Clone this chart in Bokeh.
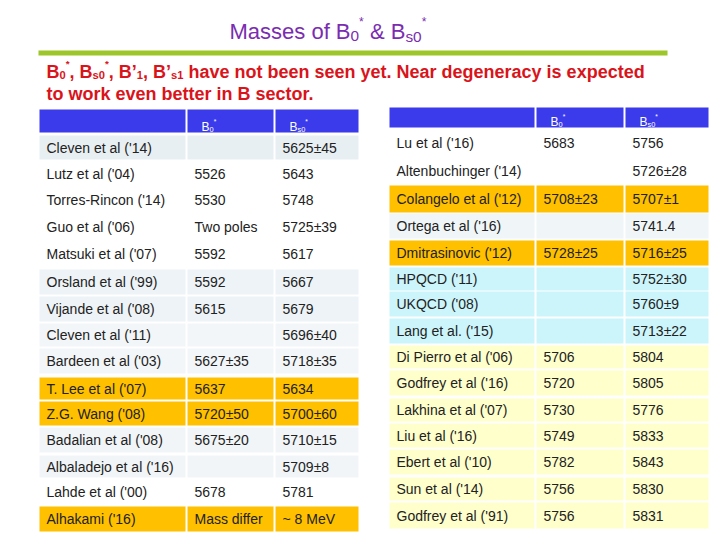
from bokeh.plotting import figure
from bokeh.models import Range1d, ColumnDataSource
from bokeh.embed import file_html
from bokeh.resources import INLINE
from bokeh.core.properties import value

# ---------------- data ----------------
left_refs = ["Cleven et al ('14)", "Lutz et al ('04)", "Torres-Rincon ('14)", "Guo et al ('06)",
             "Matsuki et al ('07)", "Orsland et al ('99)", "Vijande et al ('08)", "Cleven et al ('11)",
             "Bardeen et al ('03)", "T. Lee et al ('07)", "Z.G. Wang ('08)", "Badalian et al ('08)",
             "Albaladejo et al ('16)", "Lahde et al ('00)", "Alhakami ('16)"]
left_b0 = ["", "5526", "5530", "Two poles", "5592", "5592", "5615", "", "5627±35", "5637",
           "5720±50", "5675±20", "", "5678", "Mass differ"]
left_bs0 = ["5625±45", "5643", "5748", "5725±39", "5617", "5667", "5679", "5696±40", "5718±35",
            "5634", "5700±60", "5710±15", "5709±8", "5781", "~ 8 MeV"]

right_refs = ["Lu et al ('16)", "Altenbuchinger ('14)", "Colangelo et al ('12)", "Ortega et al ('16)",
              "Dmitrasinovic ('12)", "HPQCD ('11)", "UKQCD ('08)", "Lang et al. ('15)",
              "Di Pierro et al ('06)", "Godfrey et al ('16)", "Lakhina et al ('07)", "Liu et al ('16)",
              "Ebert et al ('10)", "Sun et al ('14)", "Godfrey et al ('91)"]
right_b0 = ["5683", "", "5708±23", "", "5728±25", "", "", "", "5706", "5720", "5730", "5749",
            "5782", "5756", "5756"]
right_bs0 = ["5756", "5726±28", "5707±1", "5741.4", "5716±25", "5752±30", "5760±9", "5713±22",
             "5804", "5805", "5776", "5833", "5843", "5830", "5831"]

# ---------------- layout / styles ----------------
ORANGE, WHITE, CYAN, YEL = "#FFC000", "#FFFFFF", "#CCF5FB", "#FFFFCC"
left_fill = ["#E8EFF2", WHITE, WHITE, WHITE, WHITE, "#EDF3F6", "#EDF3F6", "#F2F6F8", "#F2F6F8",
             ORANGE, ORANGE, "#F1F5F7", "#F1F5F7", WHITE, ORANGE]
right_fill = [WHITE, WHITE, ORANGE, "#F0F6F8", ORANGE, CYAN, CYAN, CYAN, YEL, YEL, YEL, YEL, YEL, YEL, YEL]

left_cols = [(39, 185), (187, 273), (275, 358)]
right_cols = [(389, 534), (536, 623), (625, 708)]
left_head = (109, 132)
right_head = (107, 127)
left_rows = [(135, 159), (160, 186), (186, 212), (213, 239), (240, 267), (269, 294), (296, 321),
             (323, 346), (348, 373), (377, 399), (401, 425), (427, 452), (455, 477), (479, 503), (506, 531)]
right_rows = [(128, 156), (157, 183), (185, 212), (213, 238), (240, 265), (267, 290), (291, 316),
              (318, 343), (345, 368), (370, 395), (398, 421), (423, 447), (449, 474), (477, 500), (502, 528)]

HEAD_BLUE = "#3B3BEB"
TXT = "#222222"
FONT = "Liberation Sans"

W_REG = {"M": 833, "a": 556, "s": 500, "e": 556, " ": 278, "o": 556, "f": 278, "B": 667, "&": 667,
         "0": 556, "1": 556, "*": 389, ",": 278, "’": 222}
W_BOLD = {"B": 722, ",": 278, " ": 278, "’": 278, "0": 556, "1": 556, "s": 556, "*": 389}

p = figure(width=712, height=532, output_backend="svg", toolbar_location=None,
           x_range=Range1d(0, 712), y_range=Range1d(532, 0),
           x_axis_type=None, y_axis_type=None, min_border=0)
p.grid.visible = False
p.outline_line_color = None
p.background_fill_color = "white"
p.border_fill_color = "white"


def rich(x, y, segs, size, color, bold=False, sub=0.62):
    tbl = W_BOLD if bold else W_REG
    for txt, kind in segs:
        if kind == "n":
            fs, dy = size, 0.0
        elif kind == "sub":
            fs, dy = size * sub, size * 0.22
        else:
            fs, dy = size * 0.55, -size * 0.42
        stripped = txt.lstrip(" ")
        x += (len(txt) - len(stripped)) * tbl[" "] * fs / 1000.0
        p.text(x=[x], y=[y + dy], text=[stripped], text_font=value(FONT),
               text_font_size=f"{fs:.1f}px", text_color=color,
               text_font_style="bold" if bold else "normal",
               text_baseline="alphabetic", text_align="left")
        x += sum(tbl.get(c, 556) for c in stripped) * fs / 1000.0


def table(refs, b0, bs0, fills, cols, head, rows):
    L, R, T, B, F = [], [], [], [], []
    for (cl, cr) in cols:
        L.append(cl); R.append(cr); T.append(head[0]); B.append(head[1]); F.append(HEAD_BLUE)
    for (rt, rb), fc in zip(rows, fills):
        for (cl, cr) in cols:
            L.append(cl); R.append(cr); T.append(rt); B.append(rb); F.append(fc)
    p.quad(source=ColumnDataSource(dict(left=L, right=R, top=T, bottom=B, fill=F)),
           left="left", right="right", top="top", bottom="bottom",
           fill_color="fill", line_color=None)
    xs, ys, ts = [], [], []
    for i, (rt, rb) in enumerate(rows):
        yc = (rt + rb) / 2.0
        for (cl, cr), col in zip(cols, (refs, b0, bs0)):
            if col[i]:
                xs.append(cl + 7); ys.append(yc); ts.append(col[i])
    p.text(source=ColumnDataSource(dict(x=xs, y=ys, t=ts)), x="x", y="y", text="t",
           text_font=value(FONT), text_font_size="14px", text_color=TXT,
           text_baseline="middle", text_align="left")
    hb = head[1] - 6
    rich(cols[1][0] + 14, hb, [("B", "n"), ("0", "sub"), ("*", "sup")], 12, "white")
    rich(cols[2][0] + 14, hb, [("B", "n"), ("s0", "sub"), ("*", "sup")], 12, "white")


table(left_refs, left_b0, left_bs0, left_fill, left_cols, left_head, left_rows)
table(right_refs, right_b0, right_bs0, right_fill, right_cols, right_head, right_rows)

# title
rich(229, 31, [("Masses of B", "n"), ("0", "sub"), ("*", "sup"), (" & B", "n"), ("s0", "sub"), ("*", "sup")],
     22, "#7A2DB0", sub=0.7)
# green rule
p.quad(left=[38], right=[667], top=[50], bottom=[55], fill_color="#9DC62A", line_color=None)
# red note
RED = "#D9141B"
rich(46, 71, [("B", "n"), ("0", "sub"), ("*", "sup"), (", B", "n"), ("s0", "sub"), ("*", "sup"),
              (", B’", "n"), ("1", "sub"), (", B’", "n"), ("s1", "sub"),
              (" have not been seen yet. Near degeneracy is expected", "n")], 18, RED, bold=True)
rich(46, 93, [("to work even better in B sector.", "n")], 18, RED, bold=True)

open("out.html", "w").write(file_html(p, INLINE))
